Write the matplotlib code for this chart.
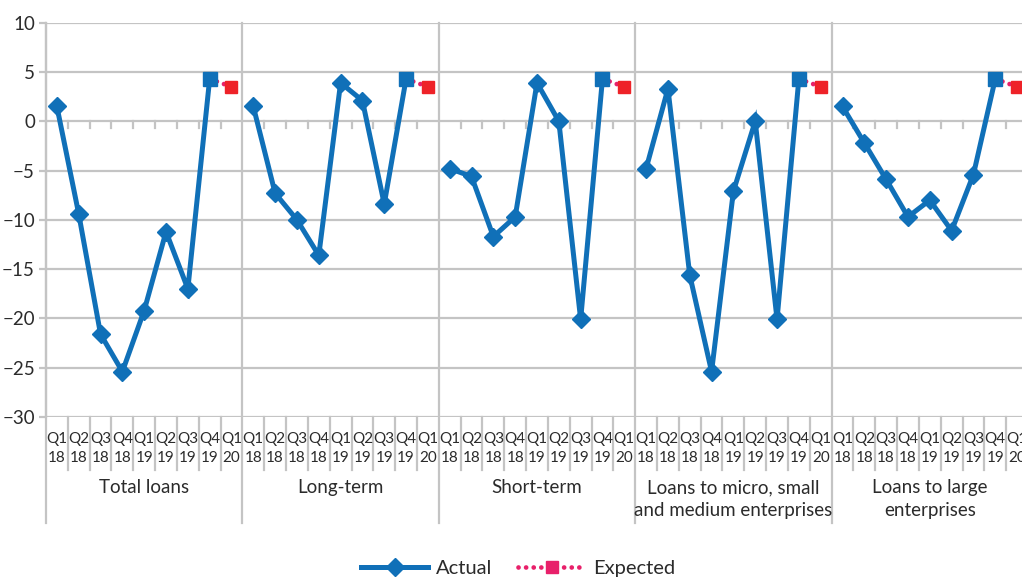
import matplotlib.pyplot as plt
from matplotlib.lines import Line2D
import numpy as np

plt.rcParams['font.family'] = ['Lato', 'DejaVu Sans']

# Data
groups = ["Total loans", "Long-term", "Short-term",
          "Loans to micro, small\nand medium enterprises", "Loans to large\nenterprises"]
quarters = ["Q1\n18", "Q2\n18", "Q3\n18", "Q4\n18", "Q1\n19", "Q2\n19", "Q3\n19", "Q4\n19", "Q1\n20"]

total_loans = [1.5, -9.4, -21.6, -25.4, -19.2, -11.2, -17.0, 4.3]
long_term = [1.5, -7.3, -10.0, -13.6, 3.9, 2.1, -8.4, 4.3]
short_term = [-4.8, -5.6, -11.7, -9.7, 3.9, 0.0, -20.1, 4.3]
sme = [-4.8, 3.3, -15.6, -25.4, -7.1, 0.0, -20.1, 4.3]
large = [1.5, -2.2, -5.9, -9.7, -8.0, -11.1, -5.4, 4.3]
actual = [total_loans, long_term, short_term, sme, large]
expected_q1_20 = [3.5, 3.5, 3.5, 3.5, 3.5]

blue = '#1070b8'
pink = '#e8206a'
red = '#ee2228'
grid = '#c4c4c4'
txt = '#2b2b2b'

fig = plt.figure(figsize=(10.22, 5.77), dpi=100)
W, H = 1022, 577
left, right, top, bottom = 46, 1028, 22.7, 417
ax = fig.add_axes([left / W, 1 - bottom / H, (right - left) / W, (bottom - top) / H])

n = len(quarters)
ax.set_xlim(-0.5, n * len(groups) - 0.5)
ax.set_ylim(-30, 10)
ax.set_yticks(np.arange(-30, 11, 5))
ax.set_xticks([])
for s in ['top', 'right', 'bottom']:
    ax.spines[s].set_visible(False)
ax.spines['left'].set_color(grid)
ax.spines['left'].set_linewidth(1.6)
ax.tick_params(axis='y', length=5, width=1.6, color=grid, labelsize=13.5, labelcolor=txt, pad=3)
ax.yaxis.grid(True, color=grid, linewidth=1.6)
ax.set_axisbelow(True)

ph = bottom - top

def frac(ypx):
    return -(ypx - bottom) / ph

tr = ax.get_xaxis_transform()

for g, name in enumerate(groups):
    x0 = g * n
    xs = np.arange(x0, x0 + n)
    # group separator
    ax.plot([x0 - 0.5, x0 - 0.5], [1, frac(523)], transform=tr, color=grid, lw=1.6,
            clip_on=False, zorder=1)
    # category separators and small ticks on zero line
    for k in range(1, n):
        xb = x0 + k - 0.5
        ax.plot([xb, xb], [0, frac(470)], transform=tr, color=grid, lw=1.6, clip_on=False)
        ax.plot([xb, xb], [0, -0.7], color=grid, lw=1.6, zorder=1)
    for k, q in enumerate(quarters):
        ax.text(x0 + k, frac(448.5), q, transform=tr, ha='center', va='center',
                fontsize=11, color=txt, linespacing=1.5)
    ax.text(x0 + (n - 1) / 2, frac(479), name, transform=tr, ha='center', va='top',
            fontsize=13.5, color=txt, linespacing=1.45)

    vals = actual[g]
    ax.plot(xs[:8], vals, color=blue, lw=3.6, marker='D', ms=9, zorder=3,
            markevery=list(range(7)), solid_joinstyle='miter')
    ex = [vals[-1], expected_q1_20[g]]
    ax.plot(xs[7:9], ex, color=pink, lw=3.4, linestyle=(0, (0.01, 1.6)),
            dash_capstyle='round', zorder=2)
    ax.plot(xs[7], ex[0], marker='s', ms=10, color=blue, zorder=4, linestyle='none')
    ax.plot(xs[8], ex[1], marker='s', ms=9, color=red, zorder=4, linestyle='none')

handles = [
    Line2D([], [], color=blue, lw=3.6, marker='D', ms=9),
    Line2D([], [], color=pink, lw=3.4, linestyle=(0, (0.01, 1.6)), dash_capstyle='round',
           marker='s', ms=9),
]
fig.legend(handles, ["Actual", "Expected"], loc='center', bbox_to_anchor=(0.507, 0.015),
           ncol=2, frameon=False, fontsize=14.5, handlelength=3.3, columnspacing=1.3,
           handletextpad=0.4, labelcolor=txt)

fig.savefig('out.png', dpi=100)
